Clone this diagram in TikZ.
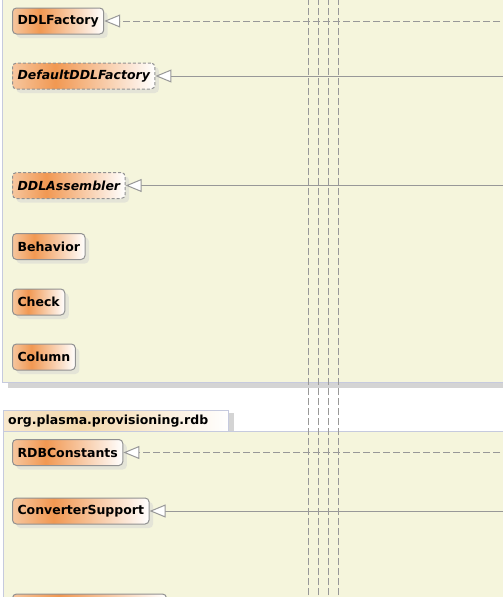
\documentclass[tikz,border=0pt]{standalone}
\usepackage{fontspec}
\newfontfamily\umlfont{DejaVu Sans}
\usetikzlibrary{arrows.meta,shadows}

\definecolor{pkgfill}{RGB}{245,245,220}
\definecolor{pkgline}{RGB}{198,202,222}
\definecolor{shadegray}{RGB}{212,212,212}
\definecolor{edgegray}{RGB}{152,152,152}
\definecolor{boxgray}{RGB}{145,145,145}
\definecolor{orlight}{RGB}{246,198,158}
\definecolor{ormid}{RGB}{241,152,82}
\definecolor{tanlight}{RGB}{248,232,206}
\definecolor{tanmid}{RGB}{244,216,172}

\pgfdeclarehorizontalshading{classshade}{100bp}{color(0bp)=(orlight); color(25bp)=(orlight); color(40bp)=(ormid); color(75bp)=(white); color(100bp)=(white)}
\pgfdeclarehorizontalshading{tabshade}{100bp}{color(0bp)=(tanlight); color(25bp)=(tanlight); color(42bp)=(tanmid); color(75bp)=(white); color(100bp)=(white)}

\newcommand{\umlsize}{\umlfont\fontsize{12.5}{14}\bfseries}

\tikzset{
	classbox/.style={draw=boxgray, line width=1pt, rounded corners=4pt, shading=classshade, anchor=west,
		minimum height=26pt, inner xsep=5pt, font=\umlsize,
		drop shadow={shadow xshift=4pt, shadow yshift=-4pt, fill=shadegray, draw=none}},
	abstractbox/.style={classbox, dash pattern=on 3pt off 2pt, font=\umlsize\itshape},
	dashedge/.style={draw=edgegray, line width=1pt, dash pattern=on 7pt off 3pt},
	solidedge/.style={draw=edgegray, line width=1pt},
	realize/.style={-{Triangle[length=16pt,width=13pt,fill=white]}}
}

\begin{document}
\begin{tikzpicture}[x=1pt,y=-1pt]
	\useasboundingbox (0,0) rectangle (503,597);
	\clip (0,0) rectangle (503,597);
	% packages
	\fill[shadegray] (8,383) rectangle (520,388);
	\filldraw[fill=pkgfill, draw=pkgline] (2.5,-10) rectangle (520,382.5);
	\fill[shadegray] (228,413) rectangle (233.5,431);
	\shadedraw[shading=tabshade, draw=pkgline] (3.5,410.5) rectangle (228,431);
	\filldraw[fill=pkgfill, draw=pkgline] (3.5,431) rectangle (520,620);
	\node[anchor=west, font=\umlsize, inner sep=0pt] (rdbpkg) at (8,421) {org.plasma.provisioning.rdb};
	% vertical edges
	\foreach \x [count=\i] in {308.5,318.5,328.5,338.5} {
		\coordinate (top\i) at (\x,-5);
		\coordinate (bot\i) at (\x,605);
		\draw[dashedge] (bot\i) -- (top\i);
	}
	% classes
	\node[classbox] (ddlfactory) at (12,21) {DDLFactory};
	\node[abstractbox] (defaultfactory) at (12,76) {DefaultDDLFactory};
	\node[abstractbox] (ddlassembler) at (12,185.5) {DDLAssembler};
	\node[classbox] (behavior) at (12,246.5) {Behavior};
	\node[classbox] (check) at (12,302) {Check};
	\node[classbox] (column) at (12,357) {Column};
	\node[classbox] (rdbconstants) at (12,452.5) {RDBConstants};
	\node[classbox] (convsupport) at (12,511) {ConverterSupport};
	\node[classbox, minimum width=154pt] (nextclass) at (12,607) {};
	% horizontal edges
	\foreach \n/\y/\s in {ddlfactory/21/dashedge, defaultfactory/76/solidedge,
		ddlassembler/185.5/solidedge, rdbconstants/452.5/dashedge, convsupport/511/solidedge} {
		\coordinate (\n-r) at (510,\y);
		\draw[\s, realize] (\n-r) -- (\n);
	}
\end{tikzpicture}
\end{document}
